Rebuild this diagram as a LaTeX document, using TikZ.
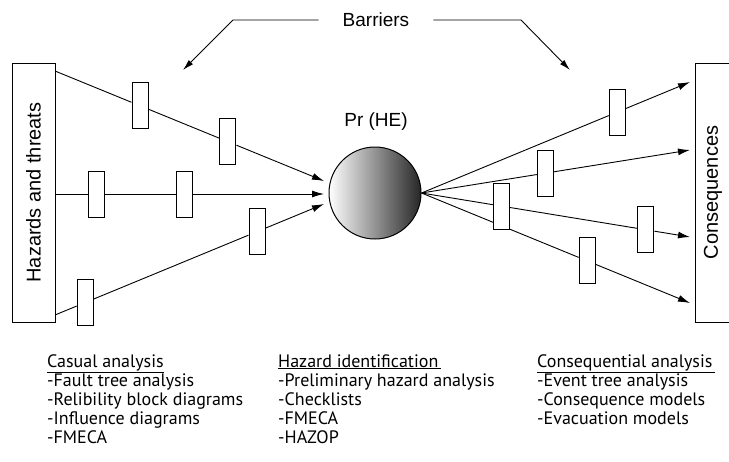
\documentclass[tikz,border=0pt]{standalone}
\usepackage{fontspec}
\setmainfont{Liberation Sans}
\newfontfamily\listfont{PT Sans}
\usetikzlibrary{arrows.meta}
\tikzset{
	barrier/.style={draw,fill=white,line width=1pt,minimum width=16pt,minimum height=46pt,inner sep=0pt},
	flow/.style={line width=0.9pt,-{Latex[length=12pt,width=7pt]}},
	sidebox/.style={draw,line width=1pt,rotate=90,inner sep=0pt,font=\fontsize{20}{24}\selectfont},
	label/.style={inner sep=0pt,font=\fontsize{19}{23}\selectfont},
	methods/.style={anchor=base west,inner sep=0pt,align=left,font=\listfont\fontsize{18}{19}\selectfont}
}
\begin{document}
\begin{tikzpicture}[x=1pt,y=-1pt]
		\useasboundingbox (0,0) rectangle (729,461);
		\node[sidebox,minimum width=259pt,minimum height=43pt] (H) at (33.5,192.5) {Hazards and threats};
		\node[sidebox,minimum width=259pt,minimum height=36pt] (C) at (713,192.5) {Consequences};
		\node[draw,circle,line width=1pt,minimum size=92pt,left color=white,middle color=black!18,right color=black!85] (HE) at (375,193) {};
		\node[label] (pr) at (376,122) {Pr (HE)};
		\node[label,inner xsep=24pt] (bar) at (376,20) {Barriers};
	
		\coordinate (bl1) at (233,20);
		\coordinate (bl2) at (183,70);
		\coordinate (br1) at (521,20);
		\coordinate (br2) at (570,70);
		\draw[flow,-{Latex[length=11pt,width=6pt]}] (bar.west) -- (bl1) -- (bl2);
		\draw[flow,-{Latex[length=11pt,width=6pt]}] (bar.east) -- (br1) -- (br2);
	
		\coordinate (h1) at (55,71);
		\coordinate (h2) at (55,194);
		\coordinate (h3) at (55,315);
		\coordinate (t1) at (324,181);
		\coordinate (t2) at (324,194);
		\coordinate (t3) at (324,204);
		\path (h1) -- (t1) node[barrier,pos=.316] (b11) {} node[barrier,pos=.643] (b12) {};
		\path (h2) -- (t2) node[barrier,pos=.156] (b21) {} node[barrier,pos=.483] (b22) {};
		\path (h3) -- (t3) node[barrier,pos=.112] (b31) {} node[barrier,pos=.751] (b32) {};
		\draw[flow] (h1) -- (b11) -- (b12) -- (t1);
		\draw[flow] (h2) -- (b21) -- (b22) -- (t2);
		\draw[flow] (h3) -- (b31) -- (b32) -- (t3);
	
		\coordinate (c1) at (690,82);
		\coordinate (c2) at (690,150);
		\coordinate (c3) at (690,237);
		\coordinate (c4) at (690,303);
		\path (HE.east) -- (c4) node[barrier,pos=.617] (d41) {};
		\draw[flow] (HE.east) -- (d41) -- (c4);
		\path (HE.east) -- (c1) node[barrier,pos=.729] (d11) {};
		\path (HE.east) -- (c2) node[barrier,pos=.461] (d21) {};
		\draw[flow] (HE.east) -- (d11) -- (c1);
		\draw[flow] (HE.east) -- (d21) -- (c2);
		\path (HE.east) -- (c3) node[barrier,pos=.297] (d31) {} node[barrier,pos=.836] (d32) {};
		\draw[flow] (HE.east) -- (d31) -- (d32) -- (c3);
	
		\node[methods] (cas) at (47,443) {\underline{Casual analysis}\\-Fault tree analysis\\-Relibility block diagrams\\-Influence diagrams\\-FMECA};
		\node[methods] (haz) at (278,443) {\underline{Hazard identification\kern3pt}\\-Preliminary hazard analysis\\-Checklists\\-FMECA\\-HAZOP};
		\node[methods] (con) at (537,424) {\underline{Consequential analysis\kern3pt}\\-Event tree analysis\\-Consequence models\\-Evacuation models};
		\end{tikzpicture}
\end{document}
